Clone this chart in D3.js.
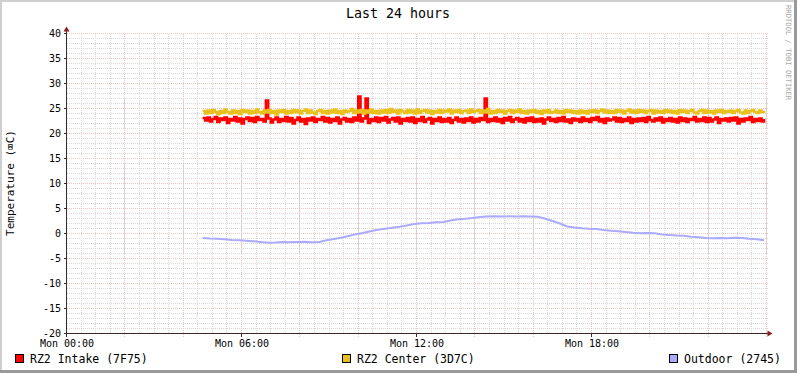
<!DOCTYPE html>
<html>
<head>
<meta charset="utf-8">
<script src="https://cdn.jsdelivr.net/npm/d3@7"></script>
<style>
  body { margin: 0; background: #fff; }
  svg { display: block; }
  text { font-family: "DejaVu Sans Mono", monospace; }
</style>
</head>
<body>
<div id="chart"></div>
<script>
// data, 5 minute steps from Mon 04:40
const startTime = new Date(2012, 0, 2, 4, 40);
const stepMinutes = 5;

const intake = [
  23.1,22.6,23.2,22.4,22.9,23.3,22.3,23.0,22.7,23.2,22.1,22.9,
  22.6,23.3,22.4,23.0,22.0,22.9,23.2,22.5,23.1,22.3,23.3,22.7,
  22.9,22.4,26.6,23.0,22.2,22.8,23.2,22.3,22.9,22.5,23.3,22.4,
  23.1,22.0,22.7,23.2,22.4,22.9,21.9,23.0,22.6,23.2,22.3,22.9,
  22.7,23.3,22.4,23.1,22.2,22.9,22.5,23.2,22.0,22.8,23.1,22.4,
  22.9,22.3,23.2,22.6,27.4,22.4,23.0,27.0,22.1,22.9,22.5,23.2,
  22.3,23.1,22.6,23.3,22.2,22.8,23.1,22.4,23.2,22.0,22.9,22.5,
  23.1,22.4,23.2,22.1,22.9,22.5,23.3,22.3,22.8,23.1,22.0,22.9,
  22.5,23.2,22.3,22.9,22.4,23.1,22.1,22.7,23.2,22.4,22.9,22.2,
  23.0,22.5,23.2,22.2,22.9,22.4,23.1,22.7,27.0,22.3,22.9,22.5,
  23.2,22.4,22.9,22.1,23.1,22.6,23.3,22.3,22.8,23.1,22.4,22.9,
  22.2,23.1,22.5,23.2,22.3,22.9,22.4,23.0,22.0,22.8,23.2,22.5,
  22.9,22.3,23.1,22.5,23.3,22.4,22.8,22.1,23.0,22.6,22.9,22.3,
  23.2,22.5,22.9,22.3,23.1,22.7,23.3,22.4,22.9,22.1,23.0,22.6,
  22.8,23.2,22.4,23.1,22.3,22.9,22.5,23.2,22.1,22.9,22.4,23.0,
  22.5,23.1,22.3,23.3,22.7,22.4,23.0,22.6,23.2,22.2,22.9,22.5,
  23.1,22.4,22.9,22.2,23.2,22.5,23.0,22.3,22.9,22.7,23.3,22.4,
  22.9,22.5,23.2,22.3,23.1,22.4,22.8,23.2,22.1,22.9,22.6,23.0,
  22.4,23.1,22.6,23.2,22.0,22.9,22.4,23.0,22.7,23.3,22.3,22.9,
  22.5,23.0,22.4,22.9
];

const center = [
  24.5,24.0,24.6,24.1,24.7,24.3,23.9,24.5,24.1,24.8,24.3,24.0,
  24.6,24.1,24.5,23.9,24.7,24.3,24.6,24.0,24.5,24.1,24.8,24.3,
  24.0,24.6,24.2,24.7,24.1,24.5,23.8,24.6,24.3,24.7,24.0,24.5,
  24.1,24.7,24.3,24.6,24.0,24.5,24.8,24.1,24.6,24.2,23.9,24.5,
  24.7,24.1,24.5,24.0,24.6,24.2,24.8,24.1,24.5,23.9,24.6,24.3,
  24.5,24.9,24.1,24.6,24.2,24.7,24.0,24.6,24.2,24.8,24.1,24.5,
  24.0,24.6,24.2,24.7,24.1,24.9,24.3,24.6,24.0,24.7,24.4,24.1,
  24.7,24.2,24.6,24.0,24.8,24.1,24.5,24.7,24.2,24.6,23.9,24.5,
  24.2,24.7,24.1,24.6,24.4,24.8,24.0,24.6,24.3,24.7,24.1,24.5,
  24.6,24.1,24.8,24.3,24.5,24.7,24.1,24.6,24.2,24.9,24.0,24.5,
  24.1,24.7,24.3,24.6,24.0,24.5,24.7,24.1,24.6,24.3,24.8,24.1,
  24.5,24.0,24.6,24.3,24.7,24.1,24.5,23.9,24.6,24.2,24.7,24.1,
  24.3,24.6,24.1,24.5,24.0,24.7,24.3,24.6,24.1,24.5,24.0,24.6,
  24.1,24.5,24.0,24.6,24.3,24.7,24.1,24.5,24.8,24.2,24.6,24.1,
  24.5,24.1,24.7,24.3,24.6,24.0,24.5,24.8,24.2,24.6,24.1,24.7,
  24.3,24.6,24.1,24.5,24.7,24.0,24.6,24.2,24.5,24.1,24.7,24.3,
  24.6,24.1,24.5,24.0,24.7,24.3,24.6,24.1,24.5,24.7,24.2,24.0,
  24.5,24.7,24.1,24.6,24.2,24.5,24.0,24.6,24.3,24.7,24.1,24.5,
  24.3,24.6,24.1,24.5,24.7,24.2,24.0,24.6,24.1,24.5,24.7,24.3,
  24.1,24.6,24.3,24.5
];

// outdoor, 15 minute steps from Mon 04:40
const outdoorStep = 15;
const outdoor = [
  -0.9,-1.0,-1.05,-1.15,-1.3,-1.35,-1.45,-1.55,-1.7,-1.85,
  -1.8,-1.7,-1.75,-1.7,-1.65,-1.75,-1.7,-1.35,-1.1,-0.85,
  -0.5,-0.15,0.1,0.45,0.75,0.95,1.15,1.35,1.6,1.9,
  2.05,2.1,2.25,2.3,2.6,2.85,2.95,3.1,3.3,3.4,
  3.45,3.4,3.45,3.4,3.45,3.4,3.35,2.95,2.5,2.0,
  1.4,1.2,1.05,0.95,0.9,0.7,0.55,0.45,0.3,0.15,
  0.05,0.1,0.05,-0.2,-0.3,-0.4,-0.45,-0.65,-0.75,-0.9,
  -0.95,-0.9,-0.95,-0.85,-0.9,-1.05,-1.15,-1.35
];

const yTicks = [40, 35, 30, 25, 20, 15, 10, 5, 0, -5, -10, -15, -20];

const series = [
  { name: "RZ2 Intake (7F75)", values: intake, step: stepMinutes, color: "#ff0000", lx: 15, curve: d3.curveStepAfter },
  { name: "RZ2 Center (3D7C)", values: center, step: stepMinutes, color: "#e9c11c", lx: 342, curve: d3.curveStepAfter },
  { name: "Outdoor (2745)", values: outdoor, step: outdoorStep, color: "#aaaaff", lx: 669, curve: d3.curveLinear }
];

const W = 797, H = 373;
const plot = { left: 66.5, right: 766.5, top: 33.5, bottom: 333.5 };

const svg = d3.select("#chart").append("svg")
  .attr("width", W)
  .attr("height", H);

svg.append("rect").attr("width", W).attr("height", H).attr("fill", "#fff");

// frame
svg.append("path").attr("d", `M0,${H} V0 H${W}`)
  .attr("fill", "none").attr("stroke", "#cfcfcf").attr("stroke-width", 4);
svg.append("path").attr("d", `M${W},0 V${H} H0`)
  .attr("fill", "none").attr("stroke", "#9a9a9a").attr("stroke-width", 6);

const dayStart = new Date(2012, 0, 2, 0, 0);
const dayEnd = new Date(2012, 0, 3, 0, 0);

let x = d3.scaleTime()
  .domain([dayStart, dayEnd])
  .range([plot.left, plot.right]);

let y = d3.scaleLinear()
  .domain([-20, 40])
  .range([plot.bottom, plot.top]);

const crisp = v => Math.round(v - 0.5) + 0.5;

// grid
let grid = svg.append("g").attr("shape-rendering", "crispEdges");

grid.selectAll(".vmin")
  .data(x.ticks(d3.timeMinute.every(30)))
  .enter().append("line")
  .attr("x1", d => crisp(x(d))).attr("x2", d => crisp(x(d)))
  .attr("y1", plot.top).attr("y2", plot.bottom)
  .attr("stroke", "#d8d8d8").attr("stroke-dasharray", "1,1");

grid.selectAll(".hmin")
  .data(d3.range(-20, 41, 1))
  .enter().append("line")
  .attr("y1", d => crisp(y(d))).attr("y2", d => crisp(y(d)))
  .attr("x1", plot.left).attr("x2", plot.right + 1)
  .attr("stroke", "#d8d8d8").attr("stroke-dasharray", "1,1");

grid.selectAll(".vmaj")
  .data(x.ticks(d3.timeHour.every(2)))
  .enter().append("line")
  .attr("x1", d => crisp(x(d))).attr("x2", d => crisp(x(d)))
  .attr("y1", plot.top).attr("y2", plot.bottom + 3)
  .attr("stroke", "#edc4c4").attr("stroke-dasharray", "1,1");

grid.selectAll(".hmaj")
  .data(yTicks)
  .enter().append("line")
  .attr("y1", d => crisp(y(d))).attr("y2", d => crisp(y(d)))
  .attr("x1", plot.left).attr("x2", plot.right + 1)
  .attr("stroke", "#edc4c4").attr("stroke-dasharray", "1,1");

// series lines
series.forEach(s => {
  const pts = s.values.map((v, i) => ({ t: d3.timeMinute.offset(startTime, i * s.step), v: v }));
  svg.append("path")
    .datum(pts)
    .attr("fill", "none")
    .attr("stroke", s.color)
    .attr("stroke-width", s.curve === d3.curveStepAfter ? 2.4 : 2)
    .attr("d", d3.line()
      .x(d => x(d.t))
      .y(d => y(d.v))
      .curve(s.curve)
    );
});

// axes
let axisG = svg.append("g").attr("shape-rendering", "crispEdges");
axisG.append("line")
  .attr("x1", plot.left - 3).attr("x2", plot.right + 2)
  .attr("y1", plot.bottom).attr("y2", plot.bottom)
  .attr("stroke", "#3a2a2a");
axisG.append("line")
  .attr("x1", plot.left).attr("x2", plot.left)
  .attr("y1", plot.bottom + 3).attr("y2", plot.top - 3)
  .attr("stroke", "#3a2a2a");

// arrows
svg.append("path")
  .attr("d", `M${plot.right + 6},${plot.bottom} L${plot.right + 1},${plot.bottom - 3} L${plot.right + 1},${plot.bottom + 3} Z`)
  .attr("fill", "#8b1f1f");
svg.append("path")
  .attr("d", `M${plot.left},${plot.top - 7} L${plot.left - 3},${plot.top - 2} L${plot.left + 3},${plot.top - 2} Z`)
  .attr("fill", "#8b1f1f");

// y ticks and labels
axisG.selectAll(".ytick")
  .data(yTicks)
  .enter().append("line")
  .attr("x1", plot.left - 3).attr("x2", plot.left)
  .attr("y1", d => crisp(y(d))).attr("y2", d => crisp(y(d)))
  .attr("stroke", "#3a2a2a");

svg.append("g").selectAll("text")
  .data(yTicks)
  .enter().append("text")
  .attr("x", 61)
  .attr("y", d => y(d) + 3.2)
  .attr("text-anchor", "end")
  .attr("font-size", 10)
  .attr("fill", "#000")
  .text(d => d);

// x ticks and labels
const fmt = d3.timeFormat("%a %H:%M");
const xLabelTicks = x.ticks(d3.timeHour.every(6)).filter(d => d < dayEnd);
axisG.selectAll(".xtick")
  .data(xLabelTicks)
  .enter().append("line")
  .attr("x1", d => crisp(x(d))).attr("x2", d => crisp(x(d)))
  .attr("y1", plot.bottom).attr("y2", plot.bottom + 3)
  .attr("stroke", "#3a2a2a");

svg.append("g").selectAll("text")
  .data(xLabelTicks)
  .enter().append("text")
  .attr("x", d => x(d) + 0.5)
  .attr("y", 346.5)
  .attr("text-anchor", "middle")
  .attr("font-size", 10)
  .attr("fill", "#000")
  .text(d => fmt(d));

// title
svg.append("text")
  .attr("x", 398).attr("y", 18)
  .attr("text-anchor", "middle")
  .attr("font-size", 13.3)
  .attr("fill", "#000")
  .text("Last 24 hours");

// y label
svg.append("text")
  .attr("transform", "translate(14,183) rotate(-90)")
  .attr("text-anchor", "middle")
  .attr("font-size", 11)
  .attr("fill", "#000")
  .text("Temperature (\u2327C)");

// watermark
svg.append("text")
  .attr("transform", "translate(786,5) rotate(90)")
  .attr("text-anchor", "start")
  .attr("font-size", 7.2)
  .attr("fill", "#a8a8a8")
  .text("RRDTOOL / TOBI OETIKER");

// legend
let legend = svg.append("g");
series.forEach(s => {
  legend.append("rect")
    .attr("x", s.lx + 0.5).attr("y", 354.5)
    .attr("width", 8).attr("height", 8)
    .attr("fill", s.color)
    .attr("stroke", "#000")
    .attr("shape-rendering", "crispEdges");
  legend.append("text")
    .attr("x", s.lx + 15).attr("y", 363)
    .attr("font-size", 11.5)
    .attr("fill", "#000")
    .text(s.name);
});
</script>
</body>
</html>
